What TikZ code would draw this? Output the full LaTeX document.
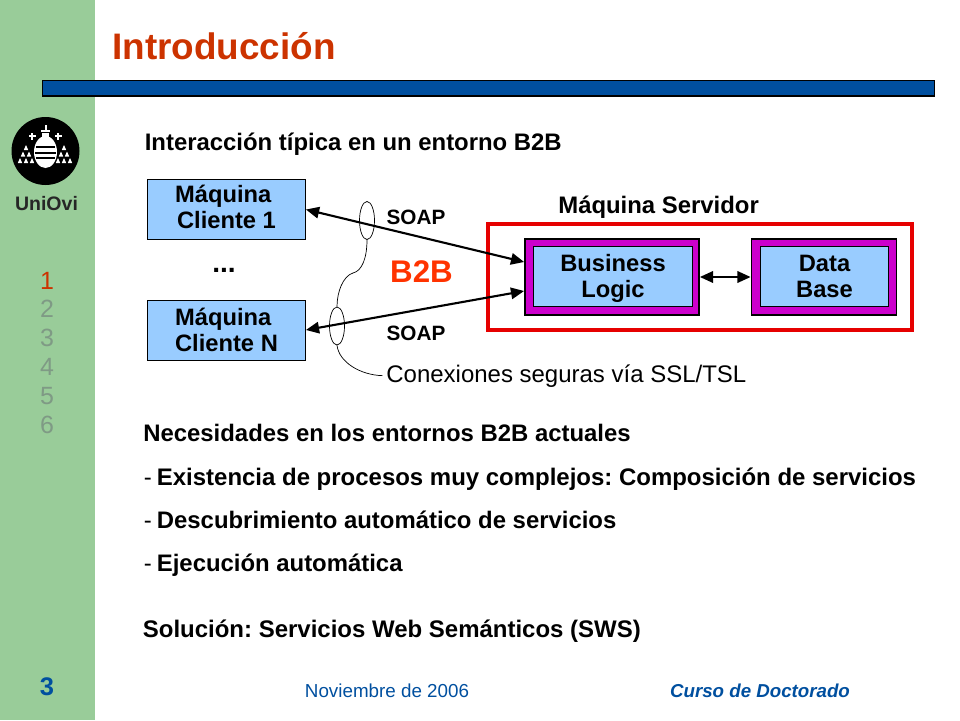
\documentclass[tikz,border=0pt]{standalone}
\usepackage{fontspec}
\setmainfont{Liberation Sans}
\usetikzlibrary{arrows.meta,shapes.geometric}
\definecolor{sidegreen}{HTML}{99CC99}
\definecolor{barblue}{HTML}{004F9F}
\definecolor{titlered}{HTML}{CC3300}
\definecolor{boxblue}{HTML}{99CCFF}
\definecolor{boxpurple}{HTML}{CC00CC}
\definecolor{frared}{HTML}{E60000}
\definecolor{bbred}{HTML}{FF3300}
\definecolor{footblue}{HTML}{004F9F}
\definecolor{numgrey}{HTML}{7F9A85}
\definecolor{numred}{HTML}{CC3300}
\tikzset{
  body/.style={anchor=base west,inner sep=0pt,font=\frenchspacing\fontsize{13.6}{15}\selectfont\bfseries},
  client/.style={draw=black,fill=boxblue,line width=.5pt,minimum width=158*.02cm,minimum height=60*.02cm,inner sep=0pt,align=center,font=\fontsize{13.5}{14.8}\selectfont\bfseries},
  outer/.style={draw=black,fill=boxpurple,line width=1pt,minimum height=76*.02cm,inner sep=0pt},
  wire/.style={line width=1.2pt,{Triangle[length=7.5pt,width=6.5pt]}-{Triangle[length=7.5pt,width=6.5pt]}},
  oval/.style={draw,line width=.4pt,ellipse,minimum width=15*.02cm,minimum height=38*.02cm,inner sep=0pt},
}
\begin{document}
\begin{tikzpicture}[x=.02cm,y=-.02cm]
\useasboundingbox (0,0) rectangle (960,720);
\fill[sidegreen] (0,0) rectangle (95,720);
\draw[fill=barblue,line width=.6pt] (42.5,80.5) rectangle (934.5,96);
\node[anchor=base west,inner sep=0pt,text=titlered,font=\fontsize{21}{24}\selectfont\bfseries] (title) at (112,59) {Introducción};
% logo
\fill[black] (45.5,151) circle (34);
\fill[white] (45.5,152) ellipse (11.5 and 16);
\fill[white] (44.5,125) rectangle (46.5,130);
\fill[white] (41,130) rectangle (50,132);
\fill[white] (42,133) rectangle (49,136.5);
\foreach \x in {32,58}{
  \fill[white] (\x-3.5,135) rectangle (\x+3.5,137);
  \fill[white] (\x-1,132.5) rectangle (\x+1,139.5);
}
\foreach \x in {26,64}{
  \foreach \r/\n in {0/1,1/2,2/3}{
    \foreach \k in {1,...,\n}{
      \fill[white] ({\x+(\k-(\n+1)/2)*6-2.2},{150+\r*6.5}) -- ++(4.4,0) -- ++(-2.2,-5) -- cycle;
    }
  }
}
\fill[black] (36,146) rectangle (55,148);
\fill[black] (35,151.5) rectangle (56,153.5);
\fill[black] (36,157) rectangle (55,159);
\node[anchor=base,inner sep=0pt,text=black!85,font=\fontsize{11.1}{13}\selectfont\bfseries] (uni) at (46.5,210) {UniOvi};
% indice
\node[anchor=base,inner sep=0pt,text=numred,font=\fontsize{14.2}{15}\selectfont] (n1) at (47,289) {1};
\foreach \t [count=\i] in {2,3,4,5,6}{
  \node[anchor=base,inner sep=0pt,text=numgrey,font=\fontsize{14.2}{15}\selectfont] (n\t) at (47,{289+\i*28.9}) {\t};
}
\node[body] (head) at (144.5,150) {Interacción típica en un entorno B2B};
\node[client] (c1) at (226.5,209.5) {Máquina\phantom{.}\\Cliente 1\rule[-3pt]{0pt}{0pt}};
\node[client] (cn) at (226.5,330) {Máquina\phantom{.}\\Cliente N};
\node[anchor=base,inner sep=0pt,font=\fontsize{16}{16}\selectfont\bfseries] (dots) at (224,272) {...};
\node[anchor=base,inner sep=0pt,font=\fontsize{11.8}{13}\selectfont\bfseries] (soap1) at (416,224) {SOAP};
\node[anchor=base,inner sep=0pt,font=\fontsize{11.8}{13}\selectfont\bfseries] (soap2) at (416,340) {SOAP};
\node[anchor=base,inner sep=0pt,text=bbred,font=\fontsize{17.8}{20}\selectfont\bfseries] (b2b) at (421.5,282) {B2B};
\node[body] (srvname) at (558,213) {Máquina Servidor};
\node[draw=frared,line width=1.9pt,minimum width=424*.02cm,minimum height=106*.02cm,inner sep=0pt] (srv) at (700,277) {};
\node[outer,minimum width=174*.02cm] (blo) at (612,277) {};
\node[outer,minimum width=145*.02cm] (dbo) at (824,277) {};
\node[client,minimum width=159*.02cm] (bl) at (613,276.5) {Business\\Lo\smash{g}ic};
\node[client,minimum width=128*.02cm] (db) at (824.5,276.5) {Data\\Base};
\coordinate (bl1) at (blo.west |- 0,262);
\coordinate (bl2) at (blo.west |- 0,291);
\draw[wire] (c1.east) -- (bl1);
\draw[wire] (cn.east) -- (bl2);
\draw[wire] (blo.east) -- (dbo.west);
\node[oval] (e1) at (367,220.5) {};
\node[oval] (e2) at (337,326) {};
\node[anchor=base west,inner ysep=0pt,inner xsep=2pt,font=\fontsize{13.65}{15}\selectfont] (ssl) at (382.5,382) {Conexiones seguras vía SSL/TSL};
\draw[line width=.4pt] (e1.south) .. controls (367,258) and (362,271) .. (353,273) .. controls (343,276) and (337,292) .. (e2.north);
\draw[line width=.4pt] (e2.south) .. controls (339,362) and (360,375) .. (ssl.west);
\node[body] (need) at (143,441) {Necesidades en los entornos B2B actuales};
\node[body,font=\frenchspacing\fontsize{13.64}{15}\selectfont\bfseries] (n1l) at (143.5,485) {\mdseries -\hspace{2.9pt}\bfseries Existencia de procesos muy complejos: Composición de servicios};
\node[body] (n2l) at (143.5,528) {\mdseries -\hspace{2.9pt}\bfseries Descubrimiento automático de servicios};
\node[body] (n3l) at (143.5,571) {\mdseries -\hspace{2.9pt}\bfseries Ejecución automática};
\node[body,font=\frenchspacing\fontsize{13.65}{15}\selectfont\bfseries] (sol) at (142.5,637) {Solución: Servicios Web Semánticos (SWS)};
\node[anchor=base,inner sep=0pt,text=footblue,font=\fontsize{10.7}{12}\selectfont] (date) at (387,697) {Noviembre de 2006};
\node[anchor=base,inner sep=0pt,text=footblue,font=\fontsize{10.65}{12}\selectfont\bfseries\itshape] (course) at (760,697) {Curso de Doctorado};
\node[anchor=base,inner sep=0pt,text=footblue,font=\fontsize{14.5}{16}\selectfont\bfseries] (page) at (47,695) {3};
\end{tikzpicture}
\end{document}
